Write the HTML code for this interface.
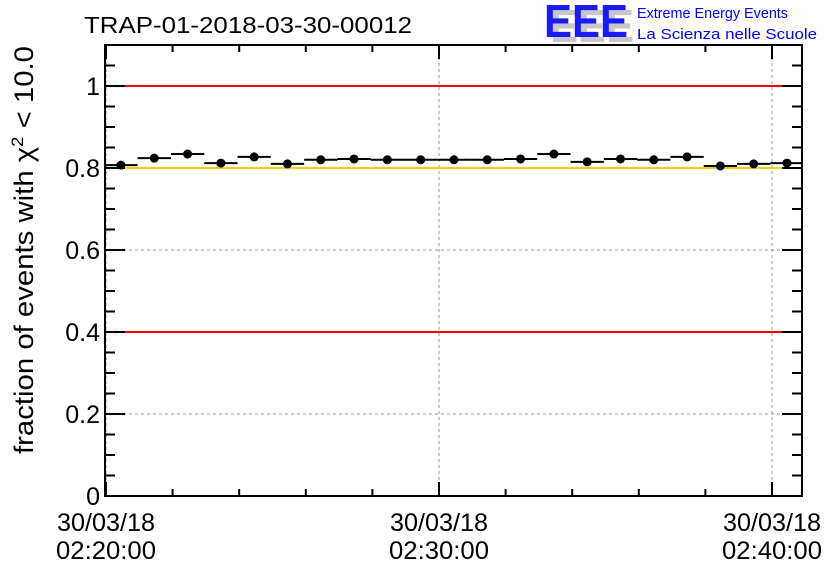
<!DOCTYPE html>
<html><head><meta charset="utf-8"><style>
body{margin:0;background:#fff;}
svg{display:block;font-family:"Liberation Sans",sans-serif;}
</style></head><body>
<svg id="chart" width="836" height="572" xmlns="http://www.w3.org/2000/svg">
<text x="84" y="33" font-size="23" textLength="328" lengthAdjust="spacingAndGlyphs">TRAP-01-2018-03-30-00012</text>
<g>
<text x="550" y="42" font-size="46" font-weight="bold" fill="#c8c8c8" textLength="84" lengthAdjust="spacingAndGlyphs">EEE</text>
<text x="544" y="37" font-size="46" font-weight="bold" fill="#1a1aff" textLength="84" lengthAdjust="spacingAndGlyphs">EEE</text>
<text x="637" y="18" font-size="15" fill="#0000ff" textLength="151" lengthAdjust="spacingAndGlyphs">Extreme Energy Events</text>
<text x="637" y="39" font-size="15" fill="#0000ff" textLength="180" lengthAdjust="spacingAndGlyphs">La Scienza nelle Scuole</text>
</g>
<text transform="translate(33,250) rotate(-90)" text-anchor="middle" font-size="27" textLength="408" lengthAdjust="spacingAndGlyphs">fraction of events with χ<tspan dy="-10" font-size="17">2</tspan><tspan dy="10"> &lt; 10.0</tspan></text>
<g id="grid"></g><g id="refs"></g><g id="axes"></g><g id="marks"></g>
</svg>
<script>
const yTicks=[0,0.2,0.4,0.6,0.8,1];
const yTickLabels=["0","0.2","0.4","0.6","0.8","1"];
const xTickMinutes=[0,10,20];
const xTickLabels=[["30/03/18","02:20:00"],["30/03/18","02:30:00"],["30/03/18","02:40:00"]];
const refValues=[1,0.8,0.4];
const refColors=["#ff0000","#ffcc00","#ff0000"];
const binMinutes=[0.45,1.45,2.45,3.45,4.45,5.45,6.45,7.45,8.45,9.45,10.45,11.45,12.45,13.45,14.45,15.45,16.45,17.45,18.45,19.45,20.45];
const fractions=[0.807,0.824,0.834,0.812,0.827,0.810,0.820,0.822,0.820,0.820,0.820,0.820,0.822,0.834,0.815,0.822,0.820,0.827,0.805,0.810,0.812];
const L=105,R=802,T=45,B=496,X0=106,PXM=33.3;
const xs=m=>X0+m*PXM;
const ys=v=>496-v*410;
const NS="http://www.w3.org/2000/svg";
function mk(tag,attrs,parent,txt){const e=document.createElementNS(NS,tag);for(const k in attrs)e.setAttribute(k,attrs[k]);if(txt!==undefined)e.textContent=txt;document.getElementById(parent).appendChild(e);return e;}
yTicks.forEach(v=>{if(v>0){const g=mk('line',{x1:L,x2:R,y1:ys(v),y2:ys(v),stroke:'#999','stroke-dasharray':'3,3','stroke-width':1},'grid');

}});
xTickMinutes.forEach(m=>{const g=mk('line',{x1:xs(m),x2:xs(m),y1:T,y2:B,stroke:'#999','stroke-dasharray':'3,3','stroke-width':1},'grid');

});
refValues.forEach((v,i)=>{const l=mk('line',{x1:L,x2:R,y1:ys(v),y2:ys(v),stroke:refColors[i],'stroke-width':2},'refs');

});
const fr=mk('rect',{x:L,y:T,width:R-L,height:B-T,fill:'none',stroke:'#000','stroke-width':2},'axes');


for(let k=0;k<=22;k++){const v=k*0.05;const len=(k%4===0)?20:10;
mk('line',{x1:L,x2:L+len,y1:ys(v),y2:ys(v),stroke:'#000','stroke-width':2},'axes');
mk('line',{x1:R-len,x2:R,y1:ys(v),y2:ys(v),stroke:'#000','stroke-width':2},'axes');}
yTicks.forEach((v,i)=>{const t=mk('text',{x:L-5,y:ys(v)+9,'text-anchor':'end','font-size':25},'axes',yTickLabels[i]);

});
for(let m=0;m<=20;m+=2){const len=(m%10===0)?14:7;
mk('line',{x1:xs(m),x2:xs(m),y1:B-len,y2:B,stroke:'#000','stroke-width':2},'axes');
mk('line',{x1:xs(m),x2:xs(m),y1:T,y2:T+len,stroke:'#000','stroke-width':2},'axes');}
xTickMinutes.forEach((m,i)=>{const t=mk('text',{x:xs(m),y:531,'text-anchor':'middle','font-size':25,textLength:98,lengthAdjust:'spacingAndGlyphs'},'axes',xTickLabels[i][0]);


const t2=mk('text',{x:xs(m),y:559,'text-anchor':'middle','font-size':25,textLength:100,lengthAdjust:'spacingAndGlyphs'},'axes',xTickLabels[i][1]);

});
binMinutes.forEach((m,i)=>{const y=ys(fractions[i]);
const l=mk('line',{x1:Math.max(L,xs(m-0.5)),x2:Math.min(R,xs(m+0.5)),y1:y,y2:y,stroke:'#000','stroke-width':2},'marks');


const c=mk('circle',{cx:xs(m),cy:y,r:4.5,fill:'#000'},'marks');

});
</script>
</body></html>
